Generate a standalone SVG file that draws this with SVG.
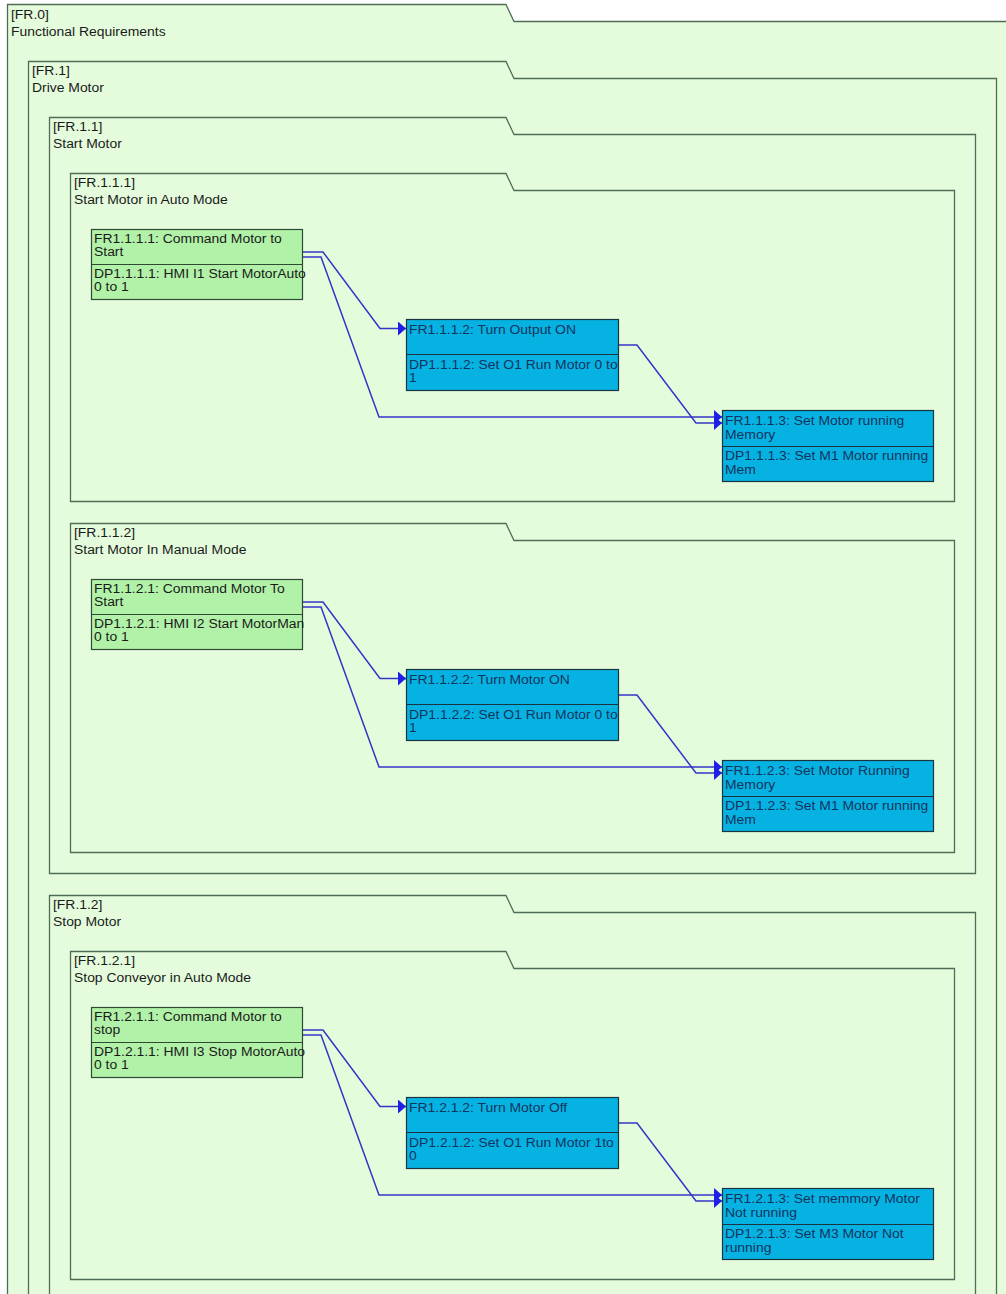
<svg xmlns="http://www.w3.org/2000/svg" width="1006" height="1294" viewBox="0 0 1006 1294">
<defs>
<style>
.pkg{fill:#e4fcdc;stroke:#4f6d56;stroke-width:1.3}
.t{font-family:"Liberation Sans",Arial,sans-serif;font-size:12px;fill:#1a1a1a;transform:scaleX(1.16);transform-box:fill-box;transform-origin:left center}
.g{fill:#b2f2a8;stroke:#2f4a33;stroke-width:1.2}
.b{fill:#06b2e2;stroke:#1b3540;stroke-width:1.2}
.bt{fill:#143460}
.c{fill:none;stroke:#3434c6;stroke-width:1.5}
</style>
<marker id="ah" viewBox="0 0 8 14" refX="8" refY="7" markerWidth="8" markerHeight="14" markerUnits="userSpaceOnUse" orient="auto"><path d="M0,0 L8,7 L0,14 Z" fill="#1f1fe6"/></marker>
</defs>
<rect width="1006" height="1294" fill="#ffffff"/>

<g id="FR.0"><path class="pkg" d="M7.5,1300 V4.5 H506 L514,21.5 H1010 V1300 Z"/><text class="t" x="11" y="19">[FR.0]</text><text class="t" x="11" y="36">Functional Requirements</text></g>
<g id="FR.1"><path class="pkg" d="M28.5,1300 V61.5 H506 L514,78.5 H996.5 V1300 Z"/><text class="t" x="32" y="75">[FR.1]</text><text class="t" x="32" y="92">Drive Motor</text></g>
<g id="FR.1.1"><path class="pkg" d="M49.5,873.5 V117.5 H506 L514,134.5 H975.5 V873.5 Z"/><text class="t" x="53" y="131">[FR.1.1]</text><text class="t" x="53" y="148">Start Motor</text></g>
<g id="FR.1.1.1"><path class="pkg" d="M70.5,501.5 V173.5 H506 L514,190.5 H954.5 V501.5 Z"/><text class="t" x="74" y="187">[FR.1.1.1]</text><text class="t" x="74" y="204">Start Motor in Auto Mode</text></g>
<g id="FR.1.1.2"><path class="pkg" d="M70.5,852.5 V523.5 H506 L514,540.5 H954.5 V852.5 Z"/><text class="t" x="74" y="537">[FR.1.1.2]</text><text class="t" x="74" y="554">Start Motor In Manual Mode</text></g>
<g id="FR.1.2"><path class="pkg" d="M49.5,1300 V895.5 H506 L514,912.5 H975.5 V1300 Z"/><text class="t" x="53" y="909">[FR.1.2]</text><text class="t" x="53" y="926">Stop Motor</text></g>
<g id="FR.1.2.1"><path class="pkg" d="M70.5,1279.5 V951.5 H506 L514,968.5 H954.5 V1279.5 Z"/><text class="t" x="74" y="965">[FR.1.2.1]</text><text class="t" x="74" y="982">Stop Conveyor in Auto Mode</text></g>

<g id="connectors">
<path class="c" marker-end="url(#ah)" d="M302,252 H323 L380,328.5 H406"/>
<path class="c" marker-end="url(#ah)" d="M302,257 H321 L379,417 H722"/>
<path class="c" marker-end="url(#ah)" d="M618,345 H637 L696,423 H722"/>
<path class="c" marker-end="url(#ah)" d="M302,602 H323 L380,678.5 H406"/>
<path class="c" marker-end="url(#ah)" d="M302,607 H321 L379,767 H722"/>
<path class="c" marker-end="url(#ah)" d="M618,695 H637 L696,773 H722"/>
<path class="c" marker-end="url(#ah)" d="M302,1030 H323 L380,1106.5 H406"/>
<path class="c" marker-end="url(#ah)" d="M302,1035 H321 L379,1195 H722"/>
<path class="c" marker-end="url(#ah)" d="M618,1123 H637 L696,1201 H722"/>
</g>

<g id="FR1.1.1.1"><rect class="g" x="91.5" y="229.5" width="211" height="70"/><line class="g" x1="91.5" y1="264.5" x2="302.5" y2="264.5"/><text class="t" x="94" y="243">FR1.1.1.1: Command Motor to</text><text class="t" x="94" y="256">Start</text><text class="t" x="94" y="278">DP1.1.1.1: HMI I1 Start MotorAuto</text><text class="t" x="94" y="291">0 to 1</text></g>
<g id="FR1.1.1.2"><rect class="b" x="406.5" y="319.5" width="212" height="71"/><line class="b" x1="406.5" y1="354.5" x2="618.5" y2="354.5"/><text class="t bt" x="409" y="334">FR1.1.1.2: Turn Output ON</text><text class="t bt" x="409" y="369">DP1.1.1.2: Set O1 Run Motor 0 to</text><text class="t bt" x="409" y="382">1</text></g>
<g id="FR1.1.1.3"><rect class="b" x="722.5" y="410.5" width="211" height="71"/><line class="b" x1="722.5" y1="446.5" x2="933.5" y2="446.5"/><text class="t bt" x="725" y="425">FR1.1.1.3: Set Motor running</text><text class="t bt" x="725" y="439">Memory</text><text class="t bt" x="725" y="460">DP1.1.1.3: Set M1 Motor running</text><text class="t bt" x="725" y="474">Mem</text></g>

<g id="FR1.1.2.1"><rect class="g" x="91.5" y="579.5" width="211" height="70"/><line class="g" x1="91.5" y1="614.5" x2="302.5" y2="614.5"/><text class="t" x="94" y="593">FR1.1.2.1: Command Motor To</text><text class="t" x="94" y="606">Start</text><text class="t" x="94" y="628">DP1.1.2.1: HMI I2 Start MotorMan</text><text class="t" x="94" y="641">0 to 1</text></g>
<g id="FR1.1.2.2"><rect class="b" x="406.5" y="669.5" width="212" height="71"/><line class="b" x1="406.5" y1="704.5" x2="618.5" y2="704.5"/><text class="t bt" x="409" y="684">FR1.1.2.2: Turn Motor ON</text><text class="t bt" x="409" y="719">DP1.1.2.2: Set O1 Run Motor 0 to</text><text class="t bt" x="409" y="732">1</text></g>
<g id="FR1.1.2.3"><rect class="b" x="722.5" y="760.5" width="211" height="71"/><line class="b" x1="722.5" y1="796.5" x2="933.5" y2="796.5"/><text class="t bt" x="725" y="775">FR1.1.2.3: Set Motor Running</text><text class="t bt" x="725" y="789">Memory</text><text class="t bt" x="725" y="810">DP1.1.2.3: Set M1 Motor running</text><text class="t bt" x="725" y="824">Mem</text></g>

<g id="FR1.2.1.1"><rect class="g" x="91.5" y="1007.5" width="211" height="70"/><line class="g" x1="91.5" y1="1042.5" x2="302.5" y2="1042.5"/><text class="t" x="94" y="1021">FR1.2.1.1: Command Motor to</text><text class="t" x="94" y="1034">stop</text><text class="t" x="94" y="1056">DP1.2.1.1: HMI I3 Stop MotorAuto</text><text class="t" x="94" y="1069">0 to 1</text></g>
<g id="FR1.2.1.2"><rect class="b" x="406.5" y="1097.5" width="212" height="71"/><line class="b" x1="406.5" y1="1132.5" x2="618.5" y2="1132.5"/><text class="t bt" x="409" y="1112">FR1.2.1.2: Turn Motor Off</text><text class="t bt" x="409" y="1147">DP1.2.1.2: Set O1 Run Motor 1to</text><text class="t bt" x="409" y="1160">0</text></g>
<g id="FR1.2.1.3"><rect class="b" x="722.5" y="1188.5" width="211" height="71"/><line class="b" x1="722.5" y1="1224.5" x2="933.5" y2="1224.5"/><text class="t bt" x="725" y="1203">FR1.2.1.3: Set memmory Motor</text><text class="t bt" x="725" y="1217">Not running</text><text class="t bt" x="725" y="1238">DP1.2.1.3: Set M3 Motor Not</text><text class="t bt" x="725" y="1252">running</text></g>
</svg>
